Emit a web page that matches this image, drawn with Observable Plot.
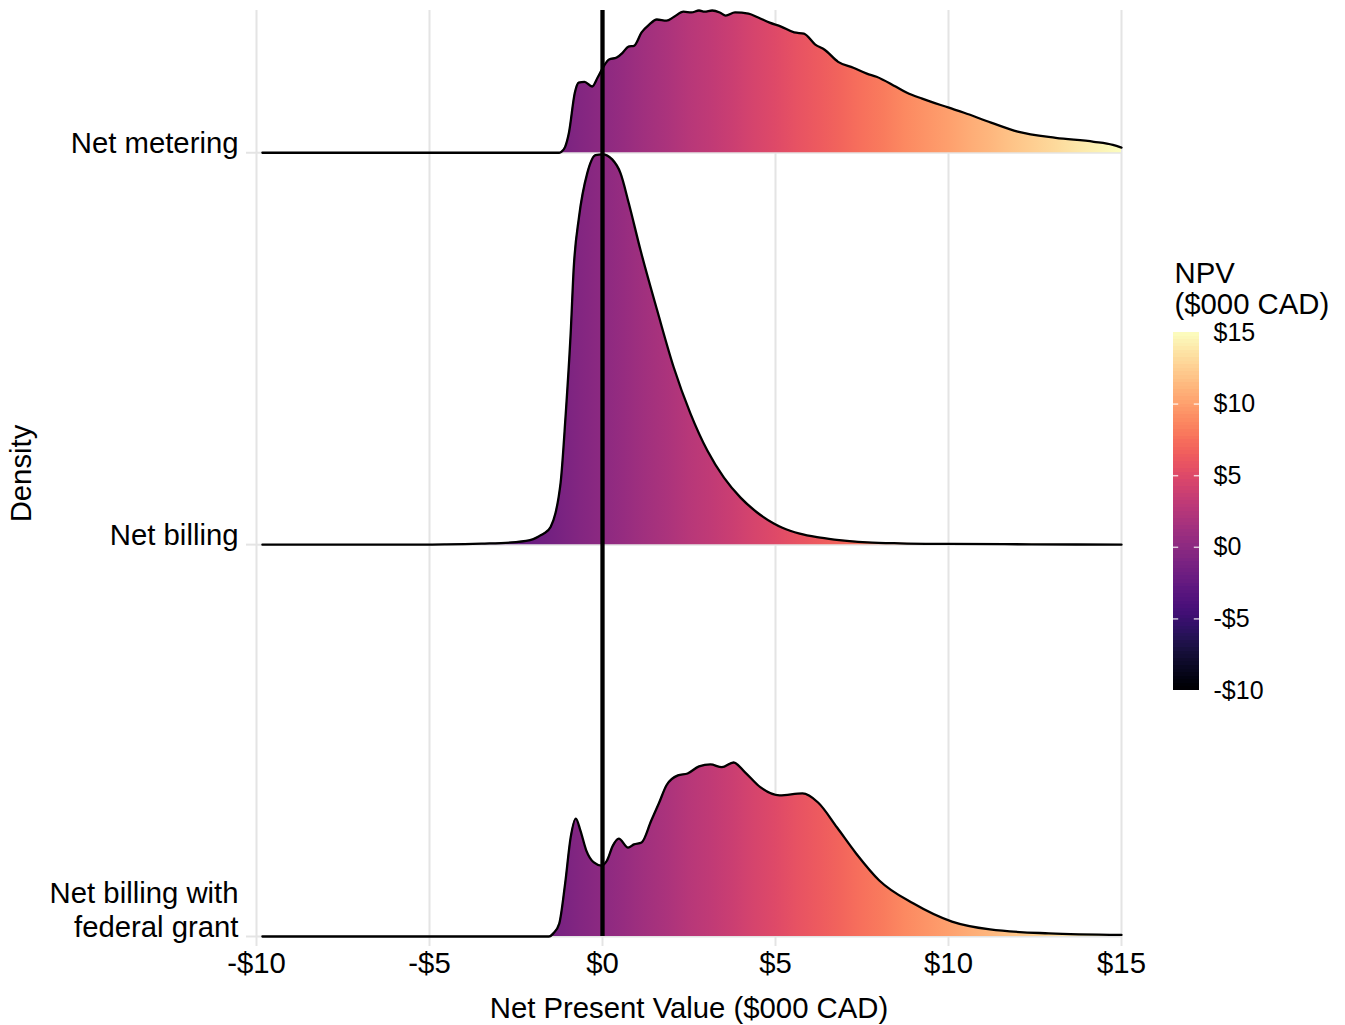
<!DOCTYPE html>
<html>
<head>
<meta charset="utf-8">
<script src="https://cdn.jsdelivr.net/npm/d3@7"></script>
<script src="https://cdn.jsdelivr.net/npm/@observablehq/plot@0.6"></script>
<style>
  html, body { margin: 0; padding: 0; background: white; overflow: hidden; }
  #wrap { position: relative; width: 1345px; height: 1025px; font-family: "Liberation Sans", Arial, sans-serif; }
  #wrap svg { position: absolute; }
</style>
</head>
<body>
<div id="wrap"></div>
<script>
// ---------------- data ----------------
const categories = ["Net metering", "Net billing", "Net billing with\nfederal grant"];

const meteringX = [-9.83, -1.25, -1.18, -1.08, -0.97, -0.80, -0.69, -0.52, -0.30, -0.14, 0.03, 0.19, 0.41, 0.58, 0.75, 0.91, 1.13, 1.35, 1.57, 1.85, 2.07, 2.34, 2.57, 2.79, 2.95, 3.17, 3.39, 3.56, 3.83, 4.22, 4.50, 4.83, 5.16, 5.54, 5.82, 6.15, 6.42, 6.81, 7.25, 7.64, 7.92, 8.47, 8.80, 9.24, 10.01, 10.45, 11.23, 12.0, 13.1, 14.2, 14.75, 15.0];
const meteringDensity = [0, 0, 0.003, 0.015, 0.051, 0.153, 0.179, 0.181, 0.169, 0.192, 0.220, 0.238, 0.243, 0.255, 0.271, 0.273, 0.307, 0.327, 0.340, 0.337, 0.347, 0.360, 0.358, 0.363, 0.360, 0.363, 0.358, 0.350, 0.358, 0.355, 0.345, 0.332, 0.322, 0.307, 0.304, 0.276, 0.263, 0.232, 0.217, 0.202, 0.194, 0.169, 0.153, 0.138, 0.115, 0.102, 0.077, 0.054, 0.038, 0.028, 0.020, 0.013];

const billingX = [-9.83, -5.0, -4.5, -3.5, -2.5, -2.0, -1.8, -1.7, -1.5, -1.36, -1.27, -1.21, -1.07, -0.92, -0.83, -0.68, -0.44, -0.20, 0.0, 0.28, 0.52, 0.76, 1.10, 1.58, 2.06, 2.54, 3.03, 3.51, 3.99, 4.47, 4.95, 5.2, 5.7, 6.2, 6.7, 7.65, 8.6, 10.0, 12.4, 15.0];
const billingDensity = [0, 0, 0.0005, 0.0026, 0.0064, 0.014, 0.023, 0.028, 0.045, 0.080, 0.120, 0.158, 0.324, 0.539, 0.708, 0.835, 0.948, 0.994, 0.996, 0.983, 0.948, 0.871, 0.751, 0.598, 0.452, 0.335, 0.240, 0.171, 0.120, 0.082, 0.054, 0.043, 0.028, 0.019, 0.013, 0.006, 0.0033, 0.0018, 0.0008, 0];

const grantX = [-9.83, -1.55, -1.42, -1.25, -1.08, -0.92, -0.77, -0.64, -0.47, -0.25, -0.03, 0.13, 0.30, 0.47, 0.74, 0.91, 1.13, 1.41, 1.63, 1.85, 2.18, 2.46, 2.79, 3.12, 3.45, 3.79, 4.12, 4.56, 5.12, 5.78, 6.23, 6.78, 7.33, 8.00, 8.99, 10.1, 11.2, 12.9, 15.0];
const grantDensity = [0, 0, 0.008, 0.033, 0.135, 0.253, 0.301, 0.271, 0.220, 0.189, 0.181, 0.194, 0.232, 0.250, 0.227, 0.235, 0.240, 0.296, 0.340, 0.386, 0.411, 0.416, 0.434, 0.439, 0.432, 0.444, 0.419, 0.381, 0.360, 0.365, 0.342, 0.278, 0.212, 0.143, 0.084, 0.038, 0.018, 0.008, 0.004];

const xTicks = [-10, -5, 0, 5, 10, 15];
const legendTicks = [-10, -5, 0, 5, 10, 15];
const npvDomain = [-10, 15];
const xTitle = "Net Present Value ($000 CAD)";
const yTitle = "Density";
const legendTitle = "NPV\n($000 CAD)";

// ---------------- build ----------------
const fmt = d => d < 0 ? `-$${-d}` : `$${d}`;
const seriesX = [meteringX, billingX, grantX];
const seriesD = [meteringDensity, billingDensity, grantDensity];
const nCat = categories.length;
const ridges = categories.map((label, k) => ({
  label,
  level: nCat - 1 - k,
  points: seriesX[k].map((x, i) => ({x, h: seriesD[k][i]}))
}));
const yTop = d3.max(ridges, r => r.level + d3.max(r.points, p => p.h));

const colorScale = Plot.scale({color: {type: "linear", scheme: "magma", domain: npvDomain}});

function gradientDefs(index, scales) {
  const ns = "http://www.w3.org/2000/svg";
  const defs = document.createElementNS(ns, "defs");
  const lg = document.createElementNS(ns, "linearGradient");
  lg.setAttribute("id", "npvMagma");
  lg.setAttribute("gradientUnits", "userSpaceOnUse");
  lg.setAttribute("x1", scales.x(npvDomain[0]));
  lg.setAttribute("x2", scales.x(npvDomain[1]));
  lg.setAttribute("y1", 0);
  lg.setAttribute("y2", 0);
  const n = 40;
  for (let i = 0; i <= n; i++) {
    const t = i / n;
    const s = document.createElementNS(ns, "stop");
    s.setAttribute("offset", t);
    s.setAttribute("stop-color", colorScale.apply(npvDomain[0] + t * (npvDomain[1] - npvDomain[0])));
    lg.appendChild(s);
  }
  defs.appendChild(lg);
  return defs;
}

const FS = 29.3;
const grid = "#e4e4e4";

const ridgeMarks = ridges.flatMap(r => [
  Plot.areaY(r.points, {x: "x", y1: () => r.level, y2: p => r.level + p.h, curve: "monotone-x", fill: "url(#npvMagma)"}),
  Plot.line(r.points, {x: "x", y: p => r.level + p.h, curve: "monotone-x", stroke: "black", strokeWidth: 2.3})
]);

const main = Plot.plot({
  width: 1345,
  height: 1025,
  marginLeft: 256,
  marginRight: 224,
  marginTop: 10,
  marginBottom: 89,
  x: {domain: npvDomain},
  y: {domain: [0, yTop]},
  style: {fontFamily: '"Liberation Sans", Arial, sans-serif', fontSize: FS + "px", color: "black", background: "white"},
  marks: [
    gradientDefs,
    Plot.ruleX(xTicks, {stroke: grid, strokeWidth: 2}),
    Plot.ruleY(ridges.map(r => r.level), {stroke: grid, strokeWidth: 2}),
    Plot.axisX({ticks: xTicks, tickFormat: fmt, tickSize: 10, tickPadding: 6, stroke: grid, strokeWidth: 2, fill: "black", fontSize: FS, label: null}),
    Plot.axisY({ticks: ridges.map(r => r.level), tickSize: 10, tickFormat: () => "", stroke: grid, strokeWidth: 2, label: null}),
    ...ridgeMarks,
    Plot.ruleX([0], {y1: 0, y2: yTop, stroke: "black", strokeWidth: 4.3}),
    Plot.text(ridges, {x: () => npvDomain[0], y: "level", text: "label", textAnchor: "end", lineAnchor: "bottom", lineHeight: 1.14, dx: -18, dy: 0, fontSize: FS, fill: "black"}),
    Plot.text([xTitle], {frameAnchor: "bottom", textAnchor: "middle", lineAnchor: "bottom", dy: 81, fontSize: FS, fill: "black"}),
    Plot.text([yTitle], {frameAnchor: "left", rotate: -90, textAnchor: "middle", lineAnchor: "bottom", dx: -226, fontSize: FS, fill: "black"})
  ]
});
main.style.left = "0px";
main.style.top = "0px";

const step = 0.25;
const legendSteps = d3.range(npvDomain[0], npvDomain[1], step);
const legend = Plot.plot({
  width: 185,
  height: 470,
  marginLeft: 13,
  marginRight: 146,
  marginTop: 92,
  marginBottom: 20,
  x: {domain: [0, 1], axis: null},
  y: {domain: npvDomain},
  color: {type: "linear", scheme: "magma", domain: npvDomain},
  style: {fontFamily: '"Liberation Sans", Arial, sans-serif', fontSize: "25px", color: "black", background: "transparent", overflow: "visible"},
  marks: [
    Plot.rect(legendSteps, {x1: 0, x2: 1, y1: d => d, y2: d => d + step, fill: d => d + step / 2, shapeRendering: "crispEdges"}),
    Plot.ruleY(legendTicks.slice(1, -1), {x1: 0, x2: 0.2, stroke: "white", strokeOpacity: 0.75, strokeWidth: 1.5}),
    Plot.ruleY(legendTicks.slice(1, -1), {x1: 0.8, x2: 1, stroke: "white", strokeOpacity: 0.75, strokeWidth: 1.5}),
    Plot.axisY({anchor: "right", ticks: legendTicks, tickFormat: fmt, tickSize: 0, tickPadding: 14, fontSize: 25, fill: "black", label: null}),
    Plot.text([legendTitle], {frameAnchor: "top-left", textAnchor: "start", lineAnchor: "bottom", lineHeight: 1.05, dx: 1, dy: -18.7, fontSize: FS, fill: "black"})
  ]
});
legend.style.left = "1160px";
legend.style.top = "240px";

const wrap = document.getElementById("wrap");
wrap.appendChild(main);
wrap.appendChild(legend);
</script>
</body>
</html>
